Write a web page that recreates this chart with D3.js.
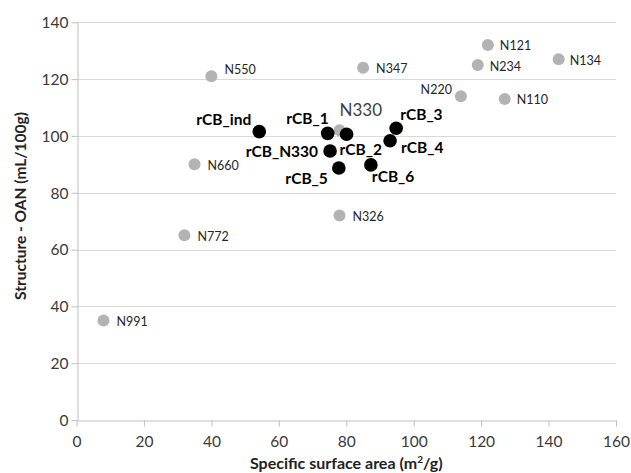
<!DOCTYPE html>
<html>
<head>
<meta charset="utf-8">
<script src="https://cdn.jsdelivr.net/npm/d3@7/dist/d3.min.js"></script>
<style>
  html, body { margin: 0; padding: 0; background: #fff; }
  svg { display: block; font-family: Lato, "Open Sans", sans-serif; }
</style>
</head>
<body>
<svg id="chart" width="631" height="473"></svg>
<script>
// Commercial carbon black grades (grey)
const gradeNames = ["N991", "N772", "N660", "N550", "N326", "N347", "N330", "N220", "N110", "N121", "N234", "N134"];
const gradeSSA   = [8, 32, 35, 40, 78, 85, 78, 114, 127, 122, 119, 143];
const gradeOAN   = [35, 65, 90, 121, 72, 124, 102, 114, 113, 132, 125, 127];

// Recovered carbon black samples (black)
const rcbNames = ["rCB_ind", "rCB_1", "rCB_2", "rCB_N330", "rCB_5", "rCB_6", "rCB_3", "rCB_4"];
const rcbSSA   = [54.2, 74.5, 80.1, 75.2, 77.8, 87.3, 94.8, 93];
const rcbOAN   = [101.5, 100.9, 100.6, 94.7, 88.7, 89.8, 102.7, 98.3];

const xTicks = [0, 20, 40, 60, 80, 100, 120, 140, 160];
const yTicks = [0, 20, 40, 60, 80, 100, 120, 140];

// Label placement around each marker: [dx, dy, anchor]
const labelPlacement = {
  N991: [13, 1, "start"], N772: [13, 1, "start"], N660: [13, 1, "start"],
  N550: [13, -7, "start"], N326: [13, 1, "start"], N347: [13, 1, "start"],
  N330: [0, -20, "start"], N220: [-9, -7, "end"], N110: [12, 1, "start"],
  N121: [12, 1, "start"], N234: [12, 2, "start"], N134: [11, 1, "start"],
  rCB_ind: [-8, -12, "end"], rCB_1: [1, -15, "end"], rCB_2: [-7, 15, "start"],
  rCB_N330: [-12, 1, "end"], rCB_5: [-11, 11, "end"], rCB_6: [1, 12, "start"],
  rCB_3: [4, -14, "start"], rCB_4: [11, 7, "start"]
};

const svg = d3.select("#chart");
const margin = { left: 76.5, right: 15, top: 22.3, bottom: 53 };
const W = 631, H = 473;

const x = d3.scaleLinear().domain([0, 160]).range([margin.left, W - margin.right]);
const y = d3.scaleLinear().domain([0, 140]).range([H - margin.bottom, margin.top]);

// Horizontal gridlines
svg.append("g").selectAll("line").data(yTicks.filter(d => d > 0)).join("line")
  .attr("x1", x(0)).attr("x2", x(160))
  .attr("y1", d => Math.round(y(d)) + 0.5).attr("y2", d => Math.round(y(d)) + 0.5)
  .attr("stroke", "#d9d9d9").attr("stroke-width", 1);

// Axes
const xAxis = svg.append("g")
  .attr("transform", `translate(0,${Math.round(y(0)) + 0.5})`)
  .call(d3.axisBottom(x).tickValues(xTicks).tickSize(6).tickPadding(6).tickSizeOuter(0));
const yAxis = svg.append("g")
  .attr("transform", `translate(${Math.round(x(0)) + 0.5},0)`)
  .call(d3.axisLeft(y).tickValues(yTicks).tickSize(6).tickPadding(3).tickSizeOuter(0));

[xAxis, yAxis].forEach(a => {
  a.select(".domain").attr("stroke", "#c0c0c0");
  a.selectAll(".tick line").attr("stroke", "#c0c0c0");
  a.selectAll(".tick text").attr("fill", "#3a3a3a")
    .style("font-family", "Lato, sans-serif").style("font-size", "15.5px");
});
xAxis.selectAll(".tick text").attr("dy", "0.95em");
yAxis.selectAll(".tick text").attr("dy", "0.35em");

// Axis titles
svg.append("text")
  .attr("x", (x(0) + x(160)) / 2).attr("y", 463)
  .attr("text-anchor", "middle").attr("dy", "0.35em")
  .style("font-weight", "bold").style("font-size", "16px").attr("fill", "#222")
  .html('Specific surface area (m<tspan baseline-shift="super" font-size="10px">2</tspan>/g)');

svg.append("text")
  .attr("transform", "translate(21,206) rotate(-90)")
  .attr("text-anchor", "middle").attr("dy", "0.35em")
  .style("font-weight", "bold").style("font-size", "15.5px").attr("fill", "#222")
  .text("Structure - OAN (mL/100g)");

// Grey markers
const grades = gradeNames.map((n, i) => ({ name: n, ssa: gradeSSA[i], oan: gradeOAN[i] }));
const rcbs = rcbNames.map((n, i) => ({ name: n, ssa: rcbSSA[i], oan: rcbOAN[i] }));

svg.append("g").selectAll("circle").data(grades).join("circle")
  .attr("cx", d => x(d.ssa)).attr("cy", d => y(d.oan)).attr("r", 6)
  .attr("fill", "#b3b3b3");

svg.append("g").selectAll("circle").data(rcbs).join("circle")
  .attr("cx", d => x(d.ssa)).attr("cy", d => y(d.oan)).attr("r", 6.8)
  .attr("fill", "#000");

// Labels
svg.append("g").selectAll("text").data(grades).join("text")
  .attr("x", d => x(d.ssa) + labelPlacement[d.name][0])
  .attr("y", d => y(d.oan) + labelPlacement[d.name][1])
  .attr("text-anchor", d => labelPlacement[d.name][2])
  .attr("dy", "0.35em")
  .style("font-size", d => d.name === "N330" ? "17px" : "12.5px")
  .attr("fill", d => d.name === "N330" ? "#404040" : "#262626")
  .text(d => d.name);

svg.append("g").selectAll("text").data(rcbs).join("text")
  .attr("x", d => x(d.ssa) + labelPlacement[d.name][0])
  .attr("y", d => y(d.oan) + labelPlacement[d.name][1])
  .attr("text-anchor", d => labelPlacement[d.name][2])
  .attr("dy", "0.35em")
  .style("font-size", "15.5px").style("font-weight", "bold")
  .attr("fill", "#000")
  .text(d => d.name);
</script>
</body>
</html>
